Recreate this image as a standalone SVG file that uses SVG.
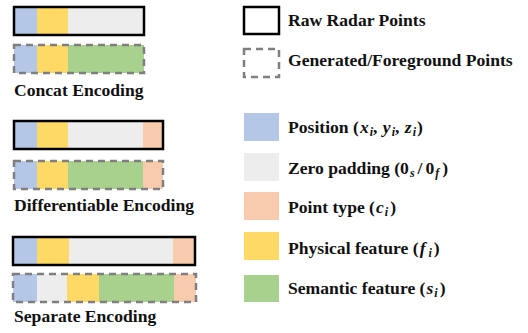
<svg xmlns="http://www.w3.org/2000/svg" width="528" height="333" viewBox="0 0 528 333">
<style>
.t{font-family:"Liberation Serif","Times New Roman",serif;font-weight:bold;font-size:17.6px;fill:#111}
.m{font-style:italic}
.s{font-size:12px}
.raw{fill:none;stroke:#000;stroke-width:2.5}
.gen{fill:none;stroke:#7f7f7f;stroke-width:2.5;stroke-dasharray:7,5}
.pos{fill:#b4c7e7}.zero{fill:#ededed}.typ{fill:#f8cbad}.phy{fill:#ffd966}.sem{fill:#a9d18e}
</style>
<rect width="528" height="333" fill="#fff"/>
<g id="concat">
<rect class="pos" x="14" y="7" width="23" height="28"/><rect class="phy" x="37" y="7" width="31" height="28"/><rect class="zero" x="68" y="7" width="76" height="28"/>
<rect class="raw" x="14" y="7" width="130" height="28"/>
<rect class="pos" x="14" y="45" width="23" height="28"/><rect class="phy" x="37" y="45" width="31" height="28"/><rect class="sem" x="68" y="45" width="76" height="28"/>
<rect class="gen" x="14" y="45" width="130" height="28"/>
<text class="t" x="14" y="96">Concat Encoding</text>
</g>
<g id="differentiable">
<rect class="pos" x="14" y="121" width="23" height="28"/><rect class="phy" x="37" y="121" width="31" height="28"/><rect class="zero" x="68" y="121" width="75" height="28"/><rect class="typ" x="143" y="121" width="20" height="28"/>
<rect class="raw" x="14" y="121" width="149" height="28"/>
<rect class="pos" x="14" y="161" width="23" height="28"/><rect class="phy" x="37" y="161" width="31" height="28"/><rect class="sem" x="68" y="161" width="75" height="28"/><rect class="typ" x="143" y="161" width="20" height="28"/>
<rect class="gen" x="14" y="161" width="149" height="28"/>
<text class="t" x="14" y="211">Differentiable Encoding</text>
</g>
<g id="separate">
<rect class="pos" x="13" y="237" width="24" height="28"/><rect class="phy" x="37" y="237" width="32" height="28"/><rect class="zero" x="69" y="237" width="104" height="28"/><rect class="typ" x="173" y="237" width="22" height="28"/>
<rect class="raw" x="13" y="237" width="182" height="28"/>
<rect class="pos" x="13" y="274" width="24" height="28"/><rect class="zero" x="37" y="274" width="30" height="28"/><rect class="phy" x="67" y="274" width="32" height="28"/><rect class="sem" x="99" y="274" width="75" height="28"/><rect class="typ" x="174" y="274" width="22" height="28"/>
<rect class="gen" x="13" y="274" width="183" height="28"/>
<text class="t" x="14" y="322">Separate Encoding</text>
</g>
<g id="legend-raw"><rect class="raw" x="244" y="7" width="35" height="27"/><text class="t" x="288" y="26">Raw Radar Points</text></g>
<g id="legend-gen"><rect class="gen" x="244" y="49" width="35" height="28"/><text class="t" x="288" y="66">Generated/Foreground Points</text></g>
<g id="legend-pos"><rect class="pos" x="244" y="113" width="35" height="28"/><text class="t" x="288" y="133">Position (<tspan class="m" dx="1">x</tspan><tspan class="s m" dx="1" dy="3">i</tspan><tspan dy="-3">, </tspan><tspan class="m" dx="1">y</tspan><tspan class="s m" dx="1" dy="3">i</tspan><tspan dy="-3">, </tspan><tspan class="m" dx="1">z</tspan><tspan class="s m" dx="1" dy="3">i</tspan><tspan dx="1" dy="-3">)</tspan></text></g>
<g id="legend-zero"><rect class="zero" x="244" y="153" width="35" height="28"/><text class="t" x="288" y="174">Zero padding (0<tspan class="s m" dx="1" dy="3">s</tspan><tspan dx="3" dy="-3">/</tspan><tspan dx="3">0</tspan><tspan class="s m" dx="1" dy="3">f</tspan><tspan dx="3" dy="-3">)</tspan></text></g>
<g id="legend-type"><rect class="typ" x="244" y="192" width="35" height="28"/><text class="t" x="288" y="213">Point type (<tspan class="m" dx="1">c</tspan><tspan class="s m" dx="1" dy="3">i</tspan><tspan dx="2" dy="-3">)</tspan></text></g>
<g id="legend-phy"><rect class="phy" x="244" y="232" width="35" height="28"/><text class="t" x="288" y="254">Physical feature (<tspan class="m" dx="1">f</tspan><tspan class="s m" dx="3" dy="3">i</tspan><tspan dx="2" dy="-3">)</tspan></text></g>
<g id="legend-sem"><rect class="sem" x="244" y="275" width="35" height="27"/><text class="t" x="288" y="294">Semantic feature (<tspan class="m" dx="1">s</tspan><tspan class="s m" dx="1" dy="3">i</tspan><tspan dx="2" dy="-3">)</tspan></text></g>
</svg>
